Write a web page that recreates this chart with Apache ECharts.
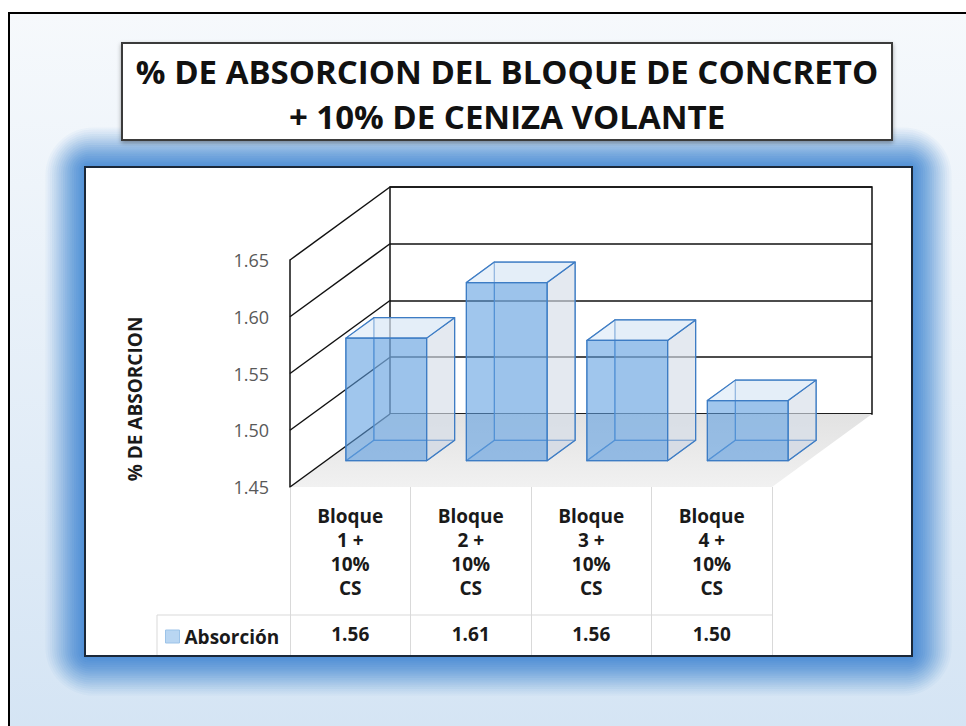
<!DOCTYPE html>
<html>
<head>
<meta charset="utf-8">
<script src="https://cdn.jsdelivr.net/npm/echarts@6/dist/echarts.min.js"></script>
<style>
html, body { margin: 0; padding: 0; background: #fff; }
#chart { width: 966px; height: 726px; }
</style>
</head>
<body>
<div id="chart"></div>
<script>
// data
var categories = ['Bloque\n1 +\n10%\nCS', 'Bloque\n2 +\n10%\nCS', 'Bloque\n3 +\n10%\nCS', 'Bloque\n4 +\n10%\nCS'];
var absorcion = [1.558, 1.607, 1.556, 1.503];
var yTicks = [1.45, 1.50, 1.55, 1.60, 1.65];
var seriesName = 'Absorción';

var FONT = '"Open Sans", "Noto Sans", sans-serif';
var Y_MIN = 1.45, Y_MAX = 1.65, Y_STEP = 0.05;
var DEPTH = [100, -73];        // front plane -> back wall
var D0 = 0.36, D1 = 0.64;      // depth of bar front / back faces
var BAR_W = 0.67;

var chart = echarts.init(document.getElementById('chart'), null, { renderer: 'svg' });

function renderFrame(params, api) {
    var v = api.value(1);
    var half = api.size([1, 0])[0] / 2;
    var p = api.coord([0, v]);
    var x = p[0] - half, y = p[1];
    var children = [];
    if (params.dataIndex === 0) {
        var xr = api.coord([categories.length - 1, v])[0] + half;
        children.push({
            type: 'polygon',
            shape: { points: [[x, y], [xr, y], [xr + DEPTH[0], y + DEPTH[1]], [x + DEPTH[0], y + DEPTH[1]]] },
            style: {
                fill: new echarts.graphic.LinearGradient(0, 0, 0, 1, [
                    { offset: 0, color: '#e2e2e2' },
                    { offset: 1, color: '#f1f1f1' }
                ])
            }
        });
    }
    children.push({
        type: 'line',
        shape: { x1: x, y1: y, x2: x + DEPTH[0], y2: y + DEPTH[1] },
        style: { stroke: '#111', lineWidth: 1.5 }
    });
    return { type: 'group', children: children };
}

function renderBar(params, api) {
    var i = api.value(0), v = api.value(1);
    var base = api.coord([i, Y_MIN]);
    var top = api.coord([i, v]);
    var w = api.size([1, 0])[0] * BAR_W;
    var xl = base[0] - w / 2, xr = base[0] + w / 2;
    function pt(x, y, d) { return [x + DEPTH[0] * d, y + DEPTH[1] * d]; }
    var f = [pt(xl, top[1], D0), pt(xr, top[1], D0), pt(xr, base[1], D0), pt(xl, base[1], D0)];
    var b = [pt(xl, top[1], D1), pt(xr, top[1], D1), pt(xr, base[1], D1), pt(xl, base[1], D1)];
    var edge = '#3d7cc4', inner = 'rgba(61,124,196,0.75)';
    function face(points, fill, stroke) {
        return { type: 'polygon', shape: { points: points }, style: { fill: fill, stroke: stroke, lineWidth: 1.2, lineJoin: 'round' } };
    }
    return {
        type: 'group',
        children: [
            face(b, 'rgba(228,234,242,0.35)', inner),
            face([f[3], f[0], b[0], b[3]], 'none', inner),
            face([f[3], f[2], b[2], b[3]], 'rgba(200,210,222,0.3)', inner),
            face([f[1], f[2], b[2], b[1]], 'rgba(206,216,228,0.45)', edge),
            face([f[0], f[1], b[1], b[0]], 'rgba(214,229,245,0.55)', edge),
            face(f, 'rgba(92,156,224,0.58)', edge)
        ]
    };
}

// soft blue glow behind the chart box
var glow = [];
for (var k = 18; k >= 1; k--) {
    glow.push({
        type: 'rect', z: -9, silent: true,
        shape: { x: 85 - 2.2 * k, y: 167 - 2.2 * k, width: 827 + 4.4 * k, height: 489 + 4.4 * k, r: 3 + 2.5 * k },
        style: { fill: 'rgba(56,130,212,' + (0.04 + 0.1 * (18 - k) / 17).toFixed(3) + ')' }
    });
}

var option = {
    animation: false,
    backgroundColor: '#fff',
    textStyle: { fontFamily: FONT },
    graphic: [
        {
            type: 'rect', z: -10, silent: true,
            shape: { x: 9, y: 13, width: 970, height: 730 },
            style: {
                fill: new echarts.graphic.LinearGradient(0, 0, 0, 1, [
                    { offset: 0, color: '#f6f9fc' },
                    { offset: 1, color: '#d4e4f4' }
                ]),
                stroke: '#000', lineWidth: 2
            }
        }
    ].concat(glow).concat([
        {
            type: 'rect', z: -8, silent: true,
            shape: { x: 85, y: 167, width: 827, height: 489 },
            style: { fill: '#fff', stroke: '#1b2838', lineWidth: 2 }
        },
        {
            type: 'rect', z: -8, silent: true,
            shape: { x: 122, y: 43, width: 770, height: 97 },
            style: { fill: '#fff', stroke: '#3a3a3a', lineWidth: 2, shadowBlur: 4, shadowOffsetY: 2, shadowColor: 'rgba(0,0,0,0.35)' }
        },
        {
            type: 'text', z: 10, x: 507, y: 94,
            style: {
                text: '% DE ABSORCION DEL BLOQUE DE CONCRETO\n+ 10% DE CENIZA VOLANTE',
                font: 'bold 33px ' + FONT, fill: '#111', align: 'center', verticalAlign: 'middle', lineHeight: 45
            }
        },
        {
            type: 'text', z: 10, x: 135, y: 399, rotation: Math.PI / 2,
            style: {
                text: '% DE ABSORCION',
                font: 'bold 19px ' + FONT, fill: '#1a1a1a', align: 'center', verticalAlign: 'middle'
            }
        },
        // data table rules
        {
            type: 'line', z: 5, silent: true,
            shape: { x1: 157, y1: 615, x2: 772, y2: 615 },
            style: { stroke: '#d9d9d9', lineWidth: 1 }
        },
        {
            type: 'line', z: 5, silent: true,
            shape: { x1: 157, y1: 615, x2: 157, y2: 655 },
            style: { stroke: '#d9d9d9', lineWidth: 1 }
        }
    ]),
    legend: {
        data: [seriesName],
        left: 160, top: 622,
        icon: 'rect', itemWidth: 14, itemHeight: 13, itemGap: 5,
        selectedMode: false,
        itemStyle: { color: '#b9d6f2', borderColor: '#9cc3e8', borderWidth: 1 },
        textStyle: { fontFamily: FONT, fontWeight: 'bold', fontSize: 19, color: '#1a1a1a' }
    },
    grid: [
        { left: 290, top: 260, width: 482, height: 227 },
        { left: 390, top: 187, width: 482, height: 227, show: true, backgroundColor: '#fff', borderColor: '#111', borderWidth: 1.5 }
    ],
    xAxis: [
        {
            type: 'category', gridIndex: 0, data: categories,
            axisLine: { show: false },
            axisTick: { show: true, length: 168, lineStyle: { color: '#d9d9d9', width: 1 } },
            axisLabel: { interval: 0, margin: 17, fontFamily: FONT, fontWeight: 'bold', fontSize: 19, lineHeight: 24, color: '#1a1a1a' }
        },
        {
            type: 'category', gridIndex: 0, position: 'bottom', offset: 130,
            data: absorcion.map(function (v) { return v.toFixed(2); }),
            axisLine: { show: false }, axisTick: { show: false },
            axisLabel: { interval: 0, margin: 7, fontFamily: FONT, fontWeight: 'bold', fontSize: 19, lineHeight: 20, color: '#1a1a1a' }
        },
        { type: 'category', gridIndex: 1, data: categories, show: false }
    ],
    yAxis: [
        {
            type: 'value', gridIndex: 0, min: Y_MIN, max: Y_MAX, interval: Y_STEP,
            axisLine: { show: true, lineStyle: { color: '#111', width: 1.5 } },
            axisTick: { show: false },
            splitLine: { show: false },
            axisLabel: {
                margin: 21, fontFamily: FONT, fontSize: 18, color: '#595959', padding: [7, 0, 0, 0],
                formatter: function (v) { return v.toFixed(2); }
            }
        },
        {
            type: 'value', gridIndex: 1, min: Y_MIN, max: Y_MAX, interval: Y_STEP,
            axisLine: { show: false }, axisTick: { show: false }, axisLabel: { show: false },
            splitLine: { show: true, lineStyle: { color: '#111', width: 1.5 } }
        }
    ],
    series: [
        {
            type: 'custom', name: 'frame', xAxisIndex: 0, yAxisIndex: 0, z: 1, silent: true,
            renderItem: renderFrame,
            data: yTicks.map(function (v) { return [0, v]; })
        },
        {
            type: 'custom', name: seriesName, xAxisIndex: 0, yAxisIndex: 0, z: 3,
            itemStyle: { color: '#b9d6f2' },
            renderItem: renderBar,
            data: absorcion.map(function (v, i) { return [i, v]; })
        }
    ]
};

chart.setOption(option);
</script>
</body>
</html>
